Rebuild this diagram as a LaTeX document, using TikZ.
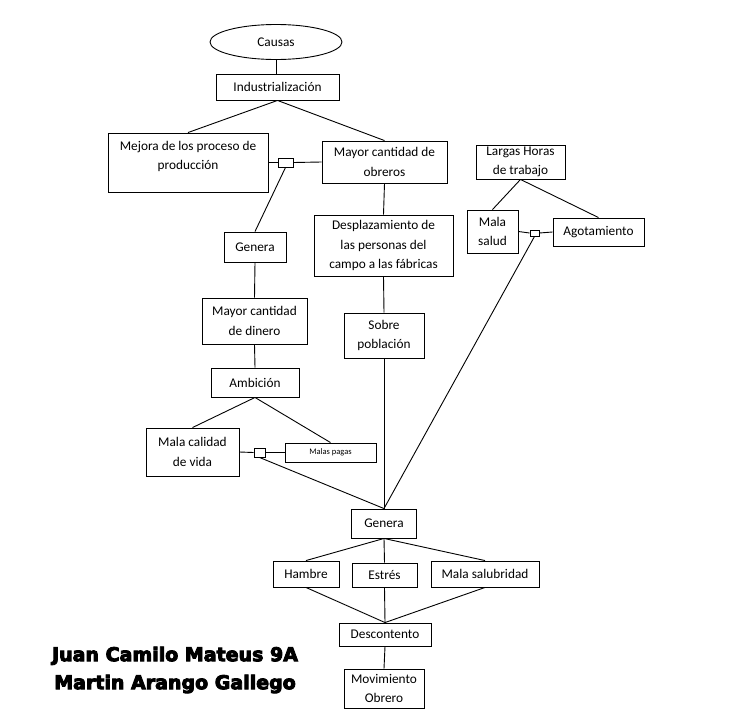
\documentclass[tikz,border=0pt]{standalone}
\usepackage{fontspec}
\setmainfont{Carlito}
\newfontfamily\namefont{DejaVu Sans}
\usetikzlibrary{shapes.geometric}
% heavier letters for the names (fill and stroke)
\newcommand\heavytext[1]{\special{pdf:code 2 Tr 0.9 w}#1\special{pdf:code 0 Tr}}

\begin{document}
\begin{tikzpicture}[x=1pt,y=-1pt,
    box/.style={draw=black,line width=0.9pt,inner sep=0pt,align=center,
      font=\fontsize{13.3}{19.5}\selectfont},
    knot/.style={draw=black,line width=0.9pt,inner sep=0pt,fill=white},
    every path/.style={line width=0.9pt}]
  \useasboundingbox (0,0) rectangle (728,728);

  \node[ellipse,box,minimum width=132,minimum height=35] (causas) at (276,42) {Causas};
  \node[box,minimum width=123,minimum height=26] (ind)      at (277.5,87)  {Industrialización};
  \node[box,minimum width=160,minimum height=59,text depth=14pt] (mejora) at (188,162.5) {Mejora de los proceso de\\producción};
  \node[knot,minimum width=15,minimum height=9]  (sqA)      at (285.5,162.5) {};
  \node[box,minimum width=125,minimum height=42] (obreros)  at (384.5,162) {Mayor cantidad de\\obreros};
  \node[box,minimum width=89,minimum height=34]  (largas)   at (520.5,162) {Largas Horas\\de trabajo};
  \node[box,minimum width=51,minimum height=43]  (malasalud) at (492.5,231.5) {Mala\\salud};
  \node[box,minimum width=91,minimum height=28]  (agot)     at (598.5,232) {Agotamiento};
  \node[knot,minimum width=9,minimum height=6]   (sqB)      at (534.5,233) {};
  \node[box,minimum width=62,minimum height=30]  (generaA)  at (255,247)   {Genera};
  \node[box,minimum width=139,minimum height=61] (despl)    at (383.5,245.5) {Desplazamiento de\\las personas del\\campo a las fábricas};
  \node[box,minimum width=105,minimum height=46] (dinero)   at (254.5,321) {Mayor cantidad\\de dinero};
  \node[box,minimum width=80,minimum height=45]  (sobre)    at (384,335.5) {Sobre\\población};
  \node[box,minimum width=88,minimum height=29]  (ambicion) at (255,382.5) {Ambición};
  \node[box,minimum width=93,minimum height=48]  (calidad)  at (192.5,452) {Mala calidad\\de vida};
  \node[knot,minimum width=11,minimum height=9]  (sqC)      at (259.5,452.5) {};
  \node[box,minimum width=91,minimum height=19,font=\fontsize{8.5}{10}\selectfont] (pagas) at (330.5,452.5) {Malas pagas};
  \node[box,minimum width=65,minimum height=29]  (generaB)  at (384,523.5) {Genera};
  \node[box,minimum width=66,minimum height=26]  (hambre)   at (306,574)   {Hambre};
  \node[box,minimum width=65,minimum height=24]  (estres)   at (384.5,575) {Estrés};
  \node[box,minimum width=108,minimum height=26] (salub)    at (485,574)   {Mala salubridad};
  \node[box,minimum width=92,minimum height=23]  (descont)  at (385,634.5) {Descontento};
  \node[box,minimum width=80,minimum height=39]  (movim)    at (384,688.5) {Movimiento\\Obrero};

  \node[font=\namefont\bfseries\fontsize{19}{28}\selectfont,align=center,inner sep=0pt] (autores) at (175,670)
    {\heavytext{Juan Camilo Mateus 9A}\\\heavytext{Martin Arango Gallego}};

  \draw (causas.south) -- (causas.south |- ind.north);
  \draw (ind.south) -- (mejora.north);
  \draw (ind.south) -- (obreros.north);
  \draw (mejora.east) -- (sqA.west);
  \draw (sqA.east) -- (obreros.west);
  \draw (sqA.south) -- (generaA.north);
  \draw (obreros.south) -- (despl.north);
  \draw (despl.south) -- (sobre.north);
  \draw (sobre.south) -- (generaB.north);
  \draw (generaA.south) -- (dinero.north);
  \draw (dinero.south) -- (ambicion.north);
  \draw (ambicion.south) -- (calidad.north);
  \draw (ambicion.south) -- (pagas.north);
  \draw (calidad.east) -- (sqC.west);
  \draw (sqC.east) -- (pagas.west);
  \draw (sqC.south) -- (generaB.north);
  \draw (largas.south) -- (malasalud.north);
  \draw (largas.south) -- (agot.north);
  \draw (malasalud.east) -- (sqB.west);
  \draw (sqB.east) -- (agot.west);
  \draw (sqB.south) -- (generaB.north);
  \draw (generaB.south) -- (hambre.north);
  \draw (generaB.south) -- (estres.north);
  \draw (generaB.south) -- (salub.north);
  \draw (hambre.south) -- (descont.north);
  \draw (estres.south) -- (descont.north);
  \draw (salub.south) -- (descont.north);
  \draw (descont.south) -- (movim.north);
\end{tikzpicture}
\end{document}
